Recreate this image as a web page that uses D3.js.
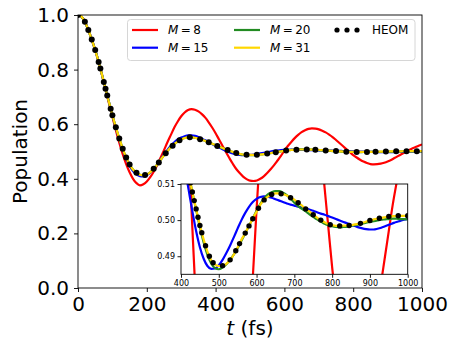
<!DOCTYPE html>
<html>
<head>
<meta charset="utf-8">
<script src="https://cdn.jsdelivr.net/npm/d3@7"></script>
<style>
  body { margin: 0; background: #fff; }
  svg { display: block; font-family: "DejaVu Sans", sans-serif; }
</style>
</head>
<body>
<div id="chart"></div>
<script>
'use strict';

// time grids (fs): truncated-M runs every 10 fs, HEOM every 5 fs
var timeCoarse = d3.range(0, 1001, 10);
var timeFine = d3.range(0, 1001, 5);

// population, M = 8
var popM8 = [
  1.000, 0.994, 0.975, 0.945, 0.910, 0.871, 0.827, 0.779, 0.728, 0.677,
  0.627, 0.578, 0.532, 0.490, 0.454, 0.424, 0.400, 0.384, 0.376, 0.380,
  0.390, 0.406, 0.426, 0.450, 0.477, 0.505, 0.534, 0.561, 0.588, 0.610,
  0.629, 0.643, 0.652, 0.655, 0.653, 0.647, 0.637, 0.624, 0.607, 0.588,
  0.567, 0.544, 0.521, 0.498, 0.476, 0.455, 0.436, 0.421, 0.408, 0.399,
  0.393, 0.392, 0.394, 0.400, 0.409, 0.421, 0.435, 0.450, 0.467, 0.484,
  0.503, 0.520, 0.535, 0.549, 0.561, 0.571, 0.578, 0.583, 0.585, 0.584,
  0.581, 0.576, 0.570, 0.562, 0.553, 0.542, 0.531, 0.520, 0.509, 0.498,
  0.487, 0.478, 0.470, 0.463, 0.458, 0.454, 0.453, 0.4535, 0.4555, 0.459,
  0.4635, 0.469, 0.476, 0.483, 0.490, 0.497, 0.504, 0.510, 0.5155, 0.521,
  0.526
];

// population, M = 15
var popM15 = [
  1.000, 0.994, 0.975, 0.945, 0.910, 0.872, 0.828, 0.780, 0.730, 0.681,
  0.632, 0.587, 0.545, 0.507, 0.474, 0.447, 0.428, 0.416, 0.410, 0.409,
  0.413, 0.422, 0.436, 0.452, 0.470, 0.489, 0.506, 0.521, 0.534, 0.544,
  0.551, 0.556, 0.559, 0.559, 0.557, 0.553, 0.547, 0.541, 0.534, 0.527,
  0.5205, 0.5145, 0.5085, 0.5025, 0.4970, 0.4925, 0.4893, 0.4873, 0.4865, 0.4866,
  0.4875, 0.4890, 0.4909, 0.4930, 0.4953, 0.4977, 0.5000, 0.5020, 0.5037, 0.5050,
  0.5059, 0.5064, 0.5066, 0.5065, 0.5062, 0.5058, 0.5054, 0.5050, 0.5046, 0.5043,
  0.5040, 0.5037, 0.5035, 0.5032, 0.5029, 0.5026, 0.5022, 0.5018, 0.5015, 0.5011,
  0.5007, 0.5003, 0.4999, 0.4995, 0.4991, 0.4987, 0.4984, 0.4980, 0.4977, 0.4975,
  0.4974, 0.4974, 0.4976, 0.4979, 0.4983, 0.4987, 0.4991, 0.4995, 0.4998, 0.5001,
  0.5003
];

// population, M = 20
var popM20 = [
  1.000, 0.994, 0.975, 0.945, 0.910, 0.872, 0.828, 0.780, 0.730, 0.681,
  0.633, 0.589, 0.548, 0.510, 0.478, 0.452, 0.434, 0.422, 0.415, 0.413,
  0.416, 0.424, 0.437, 0.452, 0.469, 0.486, 0.502, 0.516, 0.527, 0.537,
  0.5443, 0.5492, 0.5517, 0.5520, 0.5503, 0.5470, 0.5430, 0.5386, 0.5337, 0.5285,
  0.5232, 0.5180, 0.5128, 0.5077, 0.5029, 0.4980, 0.4938, 0.4904, 0.4880, 0.4867,
  0.4864, 0.4869, 0.4878, 0.4890, 0.4905, 0.4923, 0.4943, 0.4963, 0.4984, 0.5005,
  0.5026, 0.5045, 0.5060, 0.5071, 0.5077, 0.5080, 0.5080, 0.5076, 0.5069, 0.5060,
  0.5048, 0.5039, 0.5031, 0.5024, 0.5016, 0.5009, 0.5002, 0.4996, 0.4990, 0.4986,
  0.4983, 0.4981, 0.4980, 0.4981, 0.4982, 0.4984, 0.4986, 0.4988, 0.4990, 0.4993,
  0.4995, 0.4997, 0.4999, 0.5001, 0.5002, 0.5003, 0.5004, 0.5004, 0.5003, 0.5003,
  0.5002
];

// population, HEOM reference
var popHEOM = [
  1.000, 0.9985, 0.994, 0.986, 0.975, 0.961, 0.945, 0.928, 0.910, 0.891,
  0.872, 0.850, 0.828, 0.804, 0.780, 0.755, 0.730, 0.705, 0.681, 0.657,
  0.633, 0.611, 0.589, 0.568, 0.548, 0.529, 0.510, 0.493, 0.478, 0.464,
  0.452, 0.442, 0.434, 0.427, 0.422, 0.418, 0.415, 0.4135, 0.413, 0.414,
  0.416, 0.419, 0.424, 0.430, 0.437, 0.444, 0.452, 0.460, 0.469, 0.4775,
  0.486, 0.494, 0.502, 0.509, 0.516, 0.5215, 0.527, 0.532, 0.537, 0.541,
  0.5443, 0.547, 0.5492, 0.5507, 0.5517, 0.5521, 0.5520, 0.5513, 0.5503, 0.5488,
  0.5470, 0.5451, 0.5430, 0.5409, 0.5386, 0.5362, 0.5337, 0.5311, 0.5285, 0.5258,
  0.5232, 0.5206, 0.5180, 0.5154, 0.5128, 0.5103, 0.5078, 0.5054, 0.5031, 0.5008,
  0.4985, 0.4965, 0.4946, 0.4929, 0.4913, 0.4900, 0.4889, 0.4882, 0.4877, 0.4874,
  0.4873, 0.4873, 0.4874, 0.4876, 0.4879, 0.4884, 0.4890, 0.4897, 0.4905, 0.4915,
  0.4925, 0.4935, 0.4946, 0.4955, 0.4964, 0.4974, 0.4984, 0.4994, 0.5004, 0.5014,
  0.5023, 0.5033, 0.5043, 0.5050, 0.5056, 0.5061, 0.5065, 0.5068, 0.5071, 0.5073,
  0.5074, 0.5074, 0.5074, 0.5073, 0.5072, 0.5070, 0.5068, 0.5065, 0.5062, 0.5060,
  0.5057, 0.5052, 0.5048, 0.5044, 0.5040, 0.5035, 0.5031, 0.5027, 0.5024, 0.5019,
  0.5015, 0.5011, 0.5007, 0.5003, 0.5000, 0.4997, 0.4994, 0.4991, 0.4989, 0.4987,
  0.4986, 0.4985, 0.4984, 0.4984, 0.4984, 0.4984, 0.4985, 0.4985, 0.4985, 0.4985,
  0.4986, 0.4987, 0.4988, 0.4989, 0.4990, 0.4991, 0.4993, 0.4994, 0.4996, 0.4997,
  0.4999, 0.5000, 0.5002, 0.5003, 0.5004, 0.5005, 0.5006, 0.5007, 0.5008, 0.5009,
  0.5010, 0.5010, 0.5011, 0.5011, 0.5012, 0.5012, 0.5012, 0.5012, 0.5012, 0.5012,
  0.5012
];

// M = 31 is converged: it lies on the HEOM curve within the line width
var popM31 = popHEOM;

var xTicks = [0, 200, 400, 600, 800, 1000];
var yTicks = [0.0, 0.2, 0.4, 0.6, 0.8, 1.0];
var insetXTicks = [400, 500, 600, 700, 800, 900, 1000];
var insetYTicks = [0.49, 0.50, 0.51];

var series = [
    {label: '8',  time: timeCoarse, pop: popM8,  color: '#ff0000'},
    {label: '15', time: timeCoarse, pop: popM15, color: '#0000ff'},
    {label: '20', time: timeCoarse, pop: popM20, color: '#228b22'},
    {label: '31', time: timeFine,   pop: popM31, color: '#ffd700'}
];

var W = 458, H = 343;
var svg = d3.select('#chart').append('svg')
    .attr('width', W)
    .attr('height', H);

// pick marker indices spaced ~step px along the drawn path (like markevery=float)
var markEvery = function(xs, ys, sx, sy, step) {
    var cum = [0];
    for (var i = 1; i < xs.length; i++) {
        var dx = sx(xs[i]) - sx(xs[i - 1]), dy = sy(ys[i]) - sy(ys[i - 1]);
        cum.push(cum[i - 1] + Math.sqrt(dx * dx + dy * dy));
    }
    var picked = [], j = 0;
    for (var target = 0; target <= cum[cum.length - 1]; target += step) {
        while (j < cum.length - 1 && Math.abs(cum[j + 1] - target) <= Math.abs(cum[j] - target)) j++;
        if (picked[picked.length - 1] !== j) picked.push(j);
    }
    return picked;
}

var drawPanel = function(g, opts) {
    var x = opts.x, y = opts.y;
    var clipId = opts.id + '-clip';
    g.append('clipPath').attr('id', clipId)
      .append('rect')
        .attr('x', x.range()[0]).attr('y', y.range()[1])
        .attr('width', x.range()[1] - x.range()[0])
        .attr('height', y.range()[0] - y.range()[1]);

    if (opts.background) {
        g.append('rect')
            .attr('x', x.range()[0]).attr('y', y.range()[1])
            .attr('width', x.range()[1] - x.range()[0])
            .attr('height', y.range()[0] - y.range()[1])
            .attr('fill', '#fff');
    }

    var plot = g.append('g').attr('clip-path', 'url(#' + clipId + ')');

    series.forEach(function(s) {
        var line = d3.line()
            .x(function(d, i) { return x(s.time[i]) })
            .y(function(d) { return y(d) })
            .curve(d3.curveMonotoneX);
        plot.append('path')
            .datum(s.pop)
            .attr('d', line)
            .attr('fill', 'none')
            .attr('stroke', s.color)
            .attr('stroke-width', 2.2);
    });

    var idx = markEvery(timeFine, popHEOM, x, y, opts.markStep);
    plot.selectAll('circle.heom').data(idx).enter()
      .append('circle')
        .attr('class', 'heom')
        .attr('cx', function(i) { return x(timeFine[i]) })
        .attr('cy', function(i) { return y(popHEOM[i]) })
        .attr('r', opts.dotR)
        .attr('fill', '#000');

    var xAxis = g.append('g')
        .attr('transform', 'translate(0,' + y.range()[0] + ')')
        .call(d3.axisBottom(x).tickValues(opts.xTicks).tickFormat(d3.format('d'))
            .tickSize(opts.tickLen).tickSizeOuter(0).tickPadding(opts.tickPad));
    var yAxis = g.append('g')
        .attr('transform', 'translate(' + x.range()[0] + ',0)')
        .call(d3.axisLeft(y).tickValues(opts.yTicks).tickFormat(d3.format(opts.yFormat))
            .tickSize(opts.tickLen).tickSizeOuter(0).tickPadding(opts.tickPad));
    [xAxis, yAxis].forEach(function(a) {
        a.select('.domain').remove();
        a.selectAll('text')
            .attr('fill', '#000')
            .style('font-family', '"DejaVu Sans", sans-serif')
            .style('font-size', opts.fontSize + 'px');
        a.selectAll('line').attr('stroke', '#000').attr('stroke-width', 0.9);
    });

    g.append('rect')
        .attr('x', x.range()[0]).attr('y', y.range()[1])
        .attr('width', x.range()[1] - x.range()[0])
        .attr('height', y.range()[0] - y.range()[1])
        .attr('fill', 'none')
        .attr('stroke', '#000')
        .attr('stroke-width', 0.9);
}

// main axes
var x = d3.scaleLinear().domain([0, 1000]).range([78, 422]);
var y = d3.scaleLinear().domain([0, 1]).range([288, 15]);
drawPanel(svg.append('g'), {
    id: 'main', x: x, y: y, xTicks: xTicks, yTicks: yTicks, yFormat: '.1f',
    tickLen: 4, tickPad: 5, fontSize: 20, markStep: 10, dotR: 3
});

svg.append('text')
    .attr('transform', 'translate(27,151.5) rotate(-90)')
    .attr('text-anchor', 'middle')
    .style('font-size', '20px')
    .text('Population');

var xLabel = svg.append('text')
    .attr('x', 250)
    .attr('y', 335)
    .attr('text-anchor', 'middle')
    .style('font-size', '20px');
xLabel.append('tspan').style('font-style', 'italic').text('t');
xLabel.append('tspan').text(' (fs)');

// legend
var legend = svg.append('g');
legend.append('rect')
    .attr('x', 127.5).attr('y', 19.5)
    .attr('width', 287.5).attr('height', 41)
    .attr('rx', 3)
    .attr('fill', '#fff').attr('fill-opacity', 0.8)
    .attr('stroke', '#d6d6d6');

var legendPos = [[132, 30], [132, 47.7], [234, 30], [234, 47.7]];
series.forEach(function(s, i) {
    var p = legendPos[i];
    legend.append('line')
        .attr('x1', p[0]).attr('x2', p[0] + 26)
        .attr('y1', p[1]).attr('y2', p[1])
        .attr('stroke', s.color)
        .attr('stroke-width', 2.2);
    var t = legend.append('text')
        .attr('x', p[0] + 36)
        .attr('y', p[1] + 4.4)
        .style('font-size', '12px');
    t.append('tspan').style('font-style', 'italic').text('M');
    t.append('tspan').text('\u2009=\u2009' + s.label);
});
legend.selectAll('circle').data([337, 347, 357]).enter()
  .append('circle')
    .attr('cx', function(d) { return d })
    .attr('cy', 30)
    .attr('r', 2.6)
    .attr('fill', '#000');
legend.append('text')
    .attr('x', 372)
    .attr('y', 34.4)
    .style('font-size', '12px')
    .text('HEOM');

// inset
var xi = d3.scaleLinear().domain([400, 1000]).range([181, 407.7]);
var yi = d3.scaleLinear().domain([0.485, 0.51]).range([274.3, 184]);
drawPanel(svg.append('g'), {
    id: 'inset', x: xi, y: yi, xTicks: insetXTicks, yTicks: insetYTicks, yFormat: '.2f',
    tickLen: 3.5, tickPad: 2.5, fontSize: 8, markStep: 9.8, dotR: 2.7, background: true
});
</script>
</body>
</html>
